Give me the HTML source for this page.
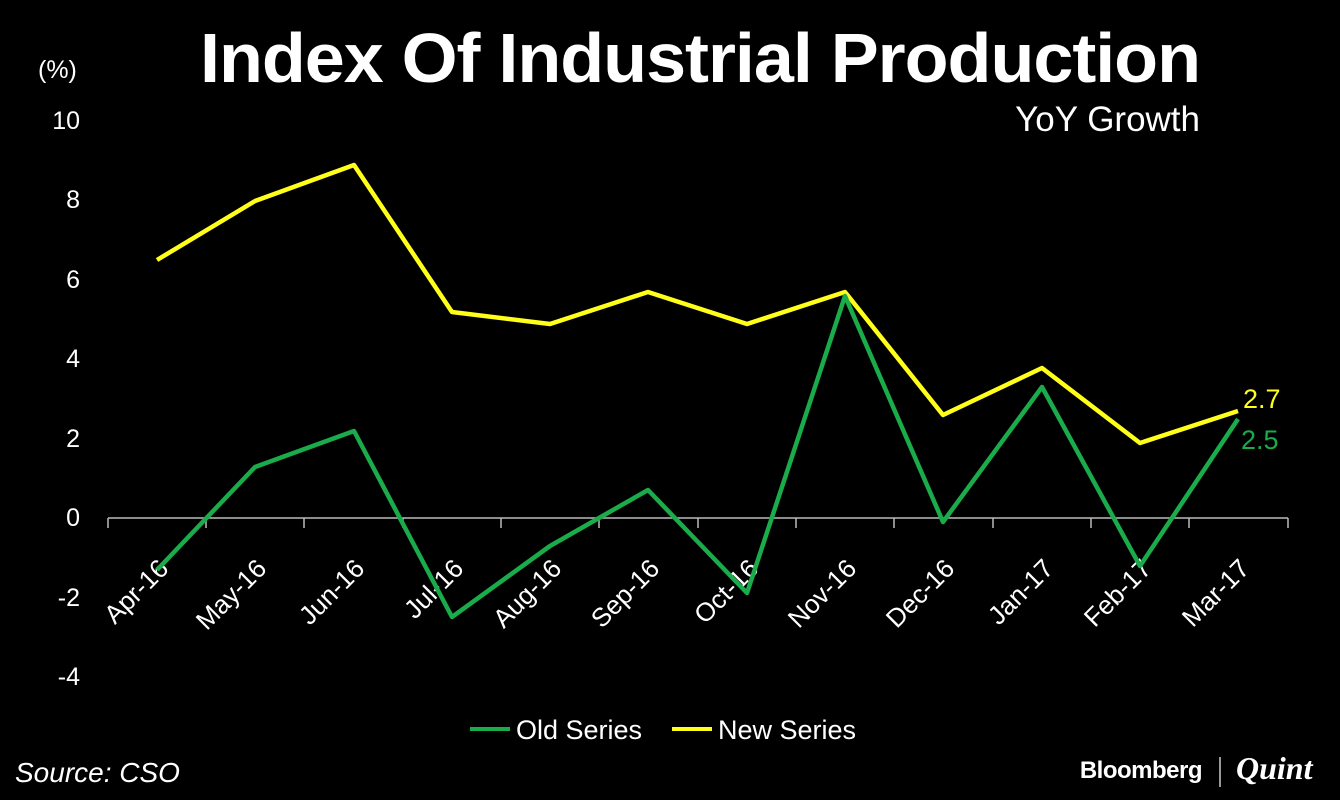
<!DOCTYPE html>
<html><head><meta charset="utf-8"><style>
body{margin:0;background:#000;width:1340px;height:800px;overflow:hidden}
svg{display:block}
text{font-family:"Liberation Sans",sans-serif;fill:#fff}
</style></head><body>
<svg width="1340" height="800" viewBox="0 0 1340 800">
<rect width="1340" height="800" fill="#000"/>
<text x="700" y="82" text-anchor="middle" font-size="70" font-weight="bold" letter-spacing="-1" textLength="1000" lengthAdjust="spacingAndGlyphs">Index Of Industrial Production</text>
<text x="1200" y="131" text-anchor="end" font-size="35">YoY Growth</text>
<text x="38" y="78" font-size="25">(%)</text>
<g font-size="25" text-anchor="end">
<text x="80" y="129">10</text><text x="80" y="208">8</text><text x="80" y="288">6</text>
<text x="80" y="367">4</text><text x="80" y="447">2</text><text x="80" y="526">0</text>
<text x="80" y="606">-2</text><text x="80" y="685">-4</text>
</g>
<g stroke="#bbb" stroke-width="1.5">
<line x1="108" y1="518" x2="1288" y2="518"/>
<line x1="108" y1="518" x2="108" y2="528"/><line x1="206" y1="518" x2="206" y2="528"/><line x1="304" y1="518" x2="304" y2="528"/><line x1="403" y1="518" x2="403" y2="528"/><line x1="501" y1="518" x2="501" y2="528"/><line x1="599" y1="518" x2="599" y2="528"/><line x1="698" y1="518" x2="698" y2="528"/><line x1="796" y1="518" x2="796" y2="528"/><line x1="894" y1="518" x2="894" y2="528"/><line x1="993" y1="518" x2="993" y2="528"/><line x1="1091" y1="518" x2="1091" y2="528"/><line x1="1189" y1="518" x2="1189" y2="528"/><line x1="1288" y1="518" x2="1288" y2="528"/>
</g>
<g font-size="26" text-anchor="end">
<text transform="translate(170,570) rotate(-45)">Apr-16</text>
<text transform="translate(268,570) rotate(-45)">May-16</text>
<text transform="translate(366,570) rotate(-45)">Jun-16</text>
<text transform="translate(465,570) rotate(-45)">Jul-16</text>
<text transform="translate(563,570) rotate(-45)">Aug-16</text>
<text transform="translate(661,570) rotate(-45)">Sep-16</text>
<text transform="translate(760,570) rotate(-45)">Oct-16</text>
<text transform="translate(858,570) rotate(-45)">Nov-16</text>
<text transform="translate(956,570) rotate(-45)">Dec-16</text>
<text transform="translate(1055,570) rotate(-45)">Jan-17</text>
<text transform="translate(1153,570) rotate(-45)">Feb-17</text>
<text transform="translate(1251,570) rotate(-45)">Mar-17</text>
</g>
<polyline fill="none" stroke="#ffff1a" stroke-width="4.5" stroke-linejoin="round" points="157,260 255,201 354,165 452,312 550,324 648,292 747,324 845,292 943,415 1042,368 1140,443 1238,411"/>
<polyline fill="none" stroke="#1aab4a" stroke-width="4.5" stroke-linejoin="round" points="157,570 255,467 354,431 452,617 550,546 648,490 747,593 845,296 943,522 1042,387 1140,566 1238,419"/>
<text x="1243" y="408" font-size="27" style="fill:#ffff1a">2.7</text>
<text x="1241" y="449" font-size="27" style="fill:#1aab4a">2.5</text>
<line x1="470" y1="729" x2="510" y2="729" stroke="#1aab4a" stroke-width="4"/>
<text x="516" y="739" font-size="27">Old Series</text>
<line x1="672" y1="729" x2="712" y2="729" stroke="#ffff1a" stroke-width="4"/>
<text x="718" y="739" font-size="27">New Series</text>
<text x="15" y="782" font-size="28" font-style="italic">Source: CSO</text>
<text x="1202" y="778" font-size="24" font-weight="bold" text-anchor="end" letter-spacing="-0.5">Bloomberg</text>
<line x1="1220" y1="757" x2="1220" y2="787" stroke="#ccc" stroke-width="1.5"/>
<text x="1236" y="779" font-size="32" font-style="italic" font-weight="bold" style="font-family:'Liberation Serif',serif">Quint</text>
</svg>
</body></html>
